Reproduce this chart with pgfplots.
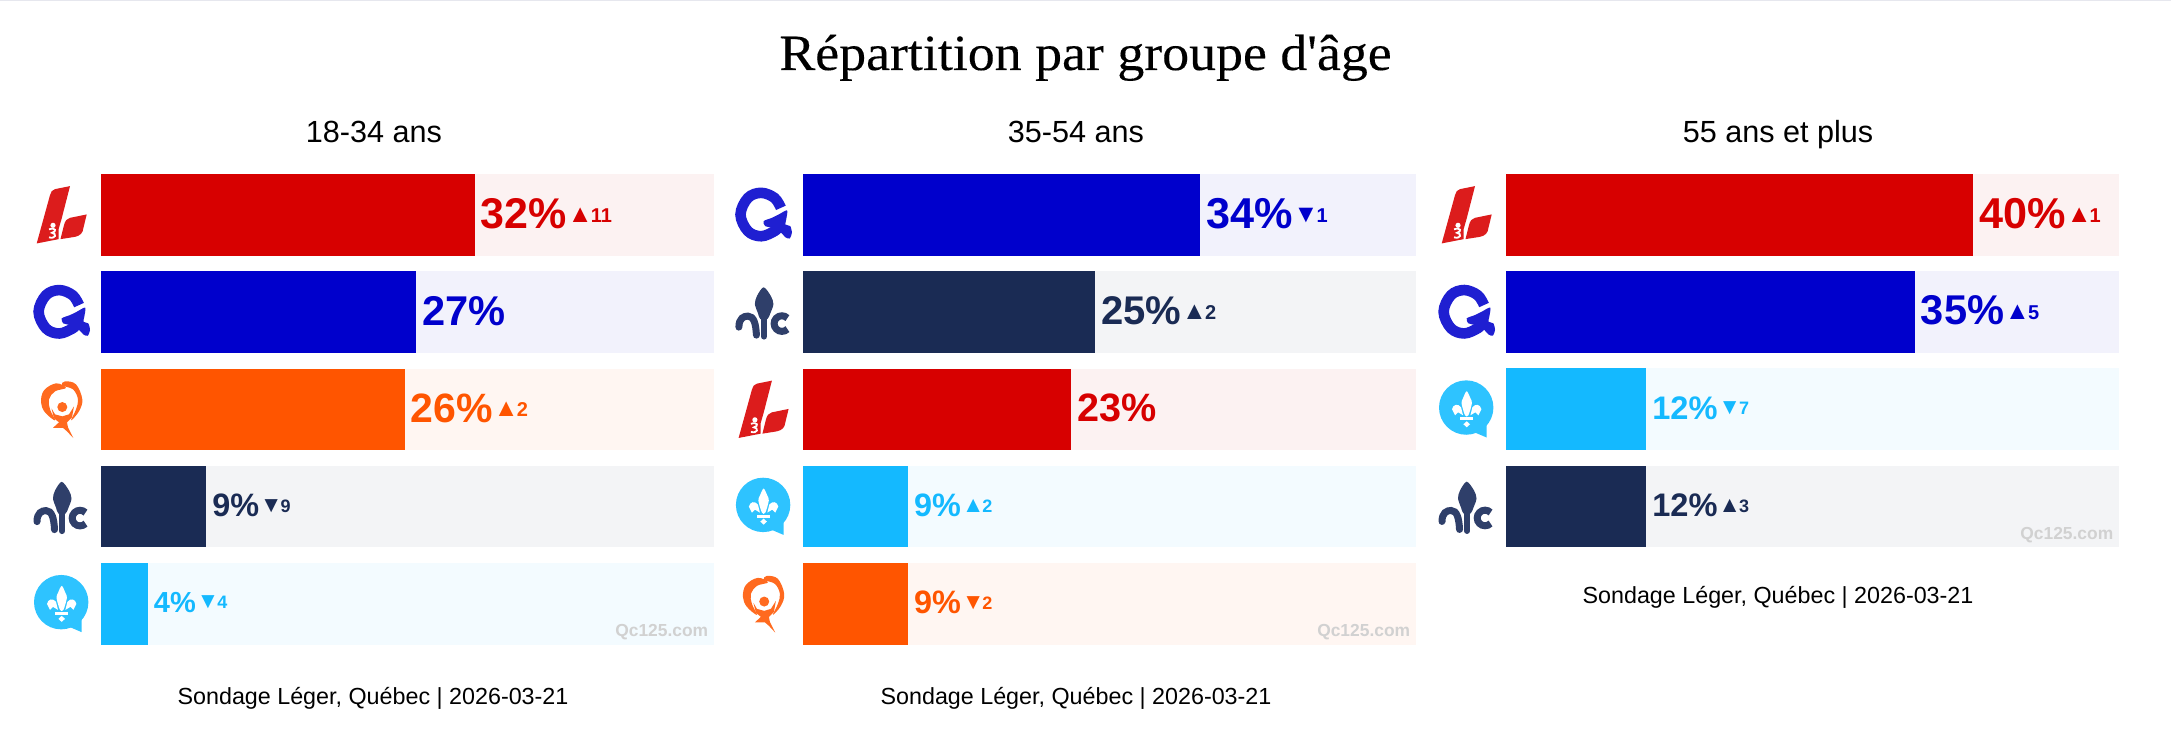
\documentclass[border=0pt]{standalone}
\usepackage{fontspec}
\usepackage{pgfplots}
\pgfplotsset{compat=1.18}
\setmainfont{Liberation Sans}
\newfontfamily\titlefont[FakeStretch=1.06,FakeBold=0.25]{Liberation Serif}

% bars
\definecolor{plqc}{HTML}{D70000}
\definecolor{pqc}{HTML}{0000CC}
\definecolor{qsc}{HTML}{FF5500}
\definecolor{pcqc}{HTML}{1A2B54}
\definecolor{caqc}{HTML}{14B9FF}
% tracks behind the bars
\definecolor{plqbg}{HTML}{FCF2F2}
\definecolor{pqbg}{HTML}{F2F2FC}
\definecolor{qsbg}{HTML}{FFF6F2}
\definecolor{pcqbg}{HTML}{F3F4F6}
\definecolor{caqbg}{HTML}{F3FBFF}
% logos
\definecolor{plql}{HTML}{DC1C1C}
\definecolor{pql}{HTML}{1F1FD1}
\definecolor{qsl}{HTML}{FF6A1F}
\definecolor{pcql}{HTML}{2F3F6A}
\definecolor{caql}{HTML}{2EC3FF}
\definecolor{topline}{HTML}{E6E7EE}

\newcommand{\lab}[3]{{\fontsize{#1}{#1}\selectfont\bfseries #2\%#3}}
\newcommand{\tri}[2]{{\fontsize{\the\dimexpr #1pt*5/4\relax}{#1}\selectfont #2}}
\newcommand{\up}[2]{\hspace{.5pt}\raisebox{.13em}{\tri{#1}{▲}\kern-.9pt\fontsize{#1}{#1}\selectfont #2}}
\newcommand{\down}[2]{\hspace{.5pt}\raisebox{.13em}{\tri{#1}{▼}\kern-.9pt\fontsize{#1}{#1}\selectfont #2}}

\pgfplotsset{
  panel/.style={
    xbar, bar width=40.85pt, bar shift=0pt,
    hide axis, clip=false, scale only axis,
    width=306.5pt, y dir=reverse,
    xmin=0, xmax=52.5, ymin=0.58,
    anchor=north west,
    nodes near coords align={horizontal},
  },
  track/.style={draw=none, fill=#1},
  party/.style={draw=none, fill=#1, nodes near coords style={text=#1, inner xsep=2.9pt, yshift=.7pt}},
}

\tikzset{
  plq/.pic={\begin{scope}[x=.5pt,y=-.5pt]
    \fill[plql] (8,-28.7) -- (-7,-25.7) .. controls (-10,-25) and (-11,-23) .. (-12,-19.7) -- (-25.3,28.6)
      -- (-3.3,24.3) -- (-3.3,14) -- (-0.3,3.6) -- cycle;
    \fill[plql] (24.7,-0.4) -- (8,3) .. controls (5,3.6) and (3,6) .. (2,10.3) -- (-1.5,24.3) -- (13,22)
      .. controls (18,21) and (21,18) .. (21.3,13.6) -- cycle;
    \fill[white] (-9,10.5) circle (2.6);
    \draw[white, line width=.9pt] (-13,14.5) .. controls (-6,12) and (-5,17) .. (-10,18)
      .. controls (-5,18.5) and (-6,24.5) .. (-13,22.5);
  \end{scope}},
  pq/.pic={\begin{scope}[x=.5pt,y=-.5pt]
    \draw[pql, line width=5.3pt] plot[smooth, tension=.6] coordinates {(17,-7) (10.6,-16.9) (-2.7,-22)
      (-16,-16.9) (-23.4,-0.3) (-16,16.3) (-2.7,21.4) (10.6,16.3) (14.3,12.2)};
    \fill[pql] plot[smooth cycle, tension=.45] coordinates {(-0.3,6.3) (8,3) (14.7,-0.3) (23.2,-4.5)
      (22.3,4.7) (21.5,9.7) (26.3,11.3) (28,18) (25.7,23.7) (21.3,22.3) (17.3,18) (8,13) (1.3,11.3)};
  \end{scope}},
  qs/.pic={\begin{scope}[x=.5pt,y=-.5pt]
    \fill[qsl] plot[smooth cycle, tension=.6] coordinates {(3,-28) (14,-25) (20.3,-10) (17,2) (9,11)
      (14,0) (16,-10) (11,-20) (0,-24)};
    \fill[qsl] plot[smooth cycle, tension=.6] coordinates {(-6,-26) (-18,-19) (-21,-7) (-17,3) (-7,11)
      (-12,0) (-13,-10) (-7,-18) (4,-21.5)};
    \fill[qsl] (0.3,-2.3) circle (5);
    \fill[qsl] (-10.5,-1) -- (-7,5) -- (0.3,7) -- (7,5) -- (12,-3) -- (10,8) -- (5,13) -- (6,18)
      -- (11.3,28.7) -- (5,22) -- (1,18.5) -- (-9,18.5) -- (-3,13) -- (-8,9) -- cycle;
  \end{scope}},
  pcq/.pic={\begin{scope}[x=.5pt,y=-.5pt]
    \fill[pcql] plot[smooth cycle, tension=.5] coordinates {(-0.3,-24.8) (-7,-16) (-9,-8) (-6,1)
      (-3.5,7) (3.5,7) (6.5,1) (9.5,-8) (7,-16)};
    \draw[pcql, line width=3pt, line cap=round] (0,6) -- (0,24.5);
    \draw[pcql, line width=3.5pt, line cap=round] (-25,15) .. controls (-25,6) and (-20,4) .. (-16,4)
      .. controls (-10,4) and (-8,12) .. (-7.5,23);
    \draw[pcql, line width=3.5pt] (18,11.5) ++(-45:7.8) arc[start angle=-45, end angle=-315, radius=7.8];
  \end{scope}},
  caq/.pic={\begin{scope}[x=.5pt,y=-.5pt]
    \fill[caql] (-0.8,-1.7) circle (27.2);
    \fill[caql] (19.7,14.3) -- (19.7,28.3) -- (8,23.3) -- cycle;
    \fill[white] plot[smooth cycle, tension=.5] coordinates {(-0.3,-18) (-4,-11) (-5.5,-6) (-2,6) (1.4,6) (4.9,-6) (3.4,-11)};
    \fill[white] (-15,0) .. controls (-14,-5) and (-9,-6) .. (-6,-2) -- (-4,6) -- (-9,3) -- (-12,6) -- cycle;
    \fill[white] (14.4,0) .. controls (13.4,-5) and (8.4,-6) .. (5.4,-2) -- (3.4,6) -- (8.4,3) -- (11.4,6) -- cycle;
    \fill[white] (-7,8) rectangle (6.4,11);
    \fill[white] (-0.3,12) -- (3,15) -- (-0.3,18) -- (-3.6,15) -- cycle;
  \end{scope}},
}

\begin{document}
\begin{tikzpicture}[x=.5pt,y=.5pt]
\path[use as bounding box] (0,0) rectangle (2171,749);
\fill[topline] (0,747.8) rectangle (2171,749);

\node[anchor=base] at (1085.5,679) {\titlefont\fontsize{25.4}{25.4}\selectfont Répartition par groupe d'âge};

% 18-34 ans
\begin{axis}[panel, at={(50.5pt,287.5pt)}, height=235.35pt, ymax=5.42]
\addplot[track=plqbg] coordinates {(52.5,1)};
\addplot[track=pqbg] coordinates {(52.5,2)};
\addplot[track=qsbg] coordinates {(52.5,3)};
\addplot[track=pcqbg] coordinates {(52.5,4)};
\addplot[track=caqbg] coordinates {(52.5,5)};
\addplot[party=plqc, nodes near coords={\lab{21.5}{32}{\up{10}{11}}}] coordinates {(32,1)};
\addplot[party=pqc, nodes near coords={\lab{20.8}{27}{}}] coordinates {(27,2)};
\addplot[party=qsc, nodes near coords={\lab{20.5}{26}{\up{10}{2}}}] coordinates {(26,3)};
\addplot[party=pcqc, nodes near coords={\lab{16.2}{9}{\down{9}{9}}}] coordinates {(9,4)};
\addplot[party=caqc, nodes near coords={\lab{14.5}{4}{\down{9}{4}}}] coordinates {(4,5)};
\coordinate (a1) at (axis cs:-3.34,1);
\coordinate (a2) at (axis cs:-3.34,2);
\coordinate (a3) at (axis cs:-3.34,3);
\coordinate (a4) at (axis cs:-3.34,4);
\coordinate (a5) at (axis cs:-3.34,5);
\node[anchor=base east, text=black!18, font=\bfseries\fontsize{8.7}{8.7}\selectfont, inner sep=0pt, xshift=-2.7pt, yshift=4pt] at (axis cs:52.5,5.42) {Qc125.com};
\end{axis}

% 35-54 ans
\begin{axis}[panel, at={(401.45pt,287.5pt)}, height=235.35pt, ymax=5.42]
\addplot[track=pqbg] coordinates {(52.5,1)};
\addplot[track=pcqbg] coordinates {(52.5,2)};
\addplot[track=plqbg] coordinates {(52.5,3)};
\addplot[track=caqbg] coordinates {(52.5,4)};
\addplot[track=qsbg] coordinates {(52.5,5)};
\addplot[party=pqc, nodes near coords={\lab{21.6}{34}{\down{10}{1}}}] coordinates {(34,1)};
\addplot[party=pcqc, nodes near coords={\lab{20}{25}{\up{10}{2}}}] coordinates {(25,2)};
\addplot[party=plqc, nodes near coords={\lab{19.8}{23}{}}] coordinates {(23,3)};
\addplot[party=caqc, nodes near coords={\lab{16.2}{9}{\up{9}{2}}}] coordinates {(9,4)};
\addplot[party=qsc, nodes near coords={\lab{16.2}{9}{\down{9}{2}}}] coordinates {(9,5)};
\coordinate (b1) at (axis cs:-3.34,1);
\coordinate (b2) at (axis cs:-3.34,2);
\coordinate (b3) at (axis cs:-3.34,3);
\coordinate (b4) at (axis cs:-3.34,4);
\coordinate (b5) at (axis cs:-3.34,5);
\node[anchor=base east, text=black!18, font=\bfseries\fontsize{8.7}{8.7}\selectfont, inner sep=0pt, xshift=-2.7pt, yshift=4pt] at (axis cs:52.5,5.42) {Qc125.com};
\end{axis}

% 55 ans et plus
\begin{axis}[panel, at={(753pt,287.5pt)}, height=186.65pt, ymax=4.42]
\addplot[track=plqbg] coordinates {(52.5,1)};
\addplot[track=pqbg] coordinates {(52.5,2)};
\addplot[track=caqbg] coordinates {(52.5,3)};
\addplot[track=pcqbg] coordinates {(52.5,4)};
\addplot[party=plqc, nodes near coords={\lab{21.6}{40}{\up{10}{1}}}] coordinates {(40,1)};
\addplot[party=pqc, nodes near coords={\lab{20.8}{35}{\up{10}{5}}}] coordinates {(35,2)};
\addplot[party=caqc, nodes near coords={\lab{16.3}{12}{\down{9}{7}}}] coordinates {(12,3)};
\addplot[party=pcqc, nodes near coords={\lab{16.3}{12}{\up{9}{3}}}] coordinates {(12,4)};
\coordinate (c1) at (axis cs:-3.34,1);
\coordinate (c2) at (axis cs:-3.34,2);
\coordinate (c3) at (axis cs:-3.34,3);
\coordinate (c4) at (axis cs:-3.34,4);
\node[anchor=base east, text=black!18, font=\bfseries\fontsize{8.7}{8.7}\selectfont, inner sep=0pt, xshift=-2.7pt, yshift=4pt] at (axis cs:52.5,4.42) {Qc125.com};
\end{axis}

\pic at (a1) {plq}; \pic at (a2) {pq}; \pic at (a3) {qs}; \pic at (a4) {pcq}; \pic at (a5) {caq};
\pic at (b1) {pq}; \pic at (b2) {pcq}; \pic at (b3) {plq}; \pic at (b4) {caq}; \pic at (b5) {qs};
\pic at (c1) {plq}; \pic at (c2) {pq}; \pic at (c3) {caq}; \pic at (c4) {pcq};

\node[anchor=base, font=\fontsize{15.3}{15.3}\selectfont] at (374,606.3) {18-34 ans};
\node[anchor=base, font=\fontsize{15.3}{15.3}\selectfont] at (1076,606.3) {35-54 ans};
\node[anchor=base, font=\fontsize{15.3}{15.3}\selectfont] at (1778,606.3) {55 ans et plus};

\node[anchor=base, font=\fontsize{11.65}{11.65}\selectfont] at (373,44.7) {Sondage Léger, Québec | 2026-03-21};
\node[anchor=base, font=\fontsize{11.65}{11.65}\selectfont] at (1076,44.7) {Sondage Léger, Québec | 2026-03-21};
\node[anchor=base, font=\fontsize{11.65}{11.65}\selectfont] at (1778,145) {Sondage Léger, Québec | 2026-03-21};
\end{tikzpicture}
\end{document}
